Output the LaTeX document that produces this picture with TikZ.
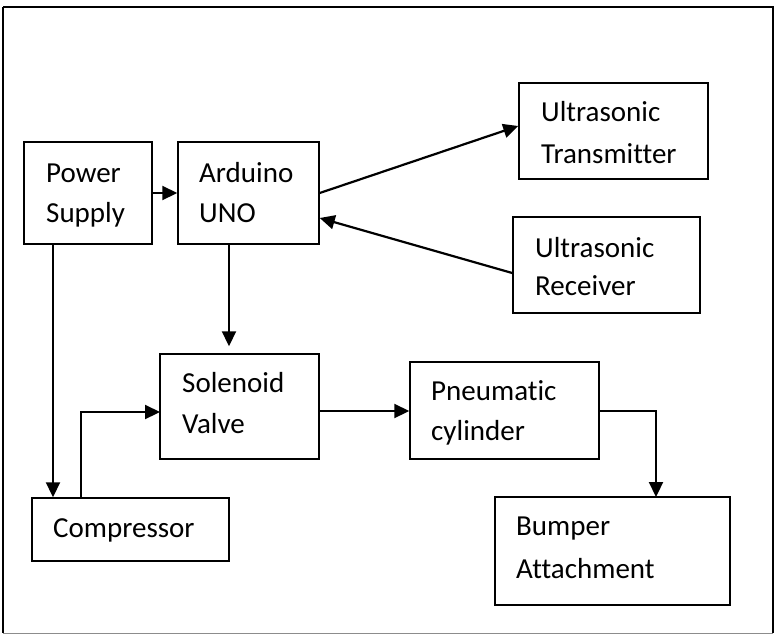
\documentclass[tikz,border=0pt]{standalone}
\usepackage{fontspec}
\setmainfont[Ligatures=NoCommon]{Carlito}
\usetikzlibrary{arrows.meta,calc}
\begin{document}
\begin{tikzpicture}[x=1pt,y=-1pt,
  box/.style={draw, line width=1.5pt, inner sep=0pt, rectangle},
  lbl/.style={inner sep=0pt, anchor=base west, align=left, font=\fontsize{29}{#1}\selectfont},
  lbl/.default=41,
  conn/.style={line width=2.2pt, -{Triangle[length=15pt,width=14pt]}}]
\useasboundingbox (0,0) rectangle (781,635);
\draw[line width=1.5pt] (3,7) -- (773,7) -- (773,633);
\draw[line width=1.5pt] (3,7) -- (3,633);
\draw[line width=0.8pt, black!45] (3,633) -- (773,633);

\node[box, minimum width=128pt, minimum height=102pt] (ps) at (88,193) {};
\node[box, minimum width=141pt, minimum height=102pt] (ard) at (248.5,193) {};
\node[box, minimum width=189pt, minimum height=96pt] (tx) at (613.5,131) {};
\node[box, minimum width=187pt, minimum height=96pt] (rx) at (606.5,265) {};
\node[box, minimum width=159pt, minimum height=105pt] (sol) at (239.5,406.5) {};
\node[box, minimum width=189pt, minimum height=97pt] (pn) at (504.5,410.5) {};
\node[box, minimum width=197pt, minimum height=63pt] (comp) at (130.5,529.5) {};
\node[box, minimum width=235pt, minimum height=108pt] (bump) at (612.5,551) {};

\node[lbl=40] (psT) at (46,222) {Power\\Supply};
\node[lbl=40] (ardT) at (199,222) {Arduino\\UNO};
\node[lbl=42] (txT) at (541,163) {Ultrasonic\\Transmitter};
\node[lbl=38] (rxT) at (535,295) {Ultrasonic\\Receiver};
\node[lbl=41] (solT) at (182,433) {Solenoid\\Valve};
\node[lbl=40] (pnT) at (431,440) {Pneumatic\\cylinder};
\node[lbl] (compT) at (53,537) {Compressor};
\node[lbl=43] (bumpT) at (516,578) {Bumper\\Attachment};

\coordinate (psDown) at (53,244);
\coordinate (ardDown) at (229,244);
\coordinate (compUp) at (81,498);
\coordinate (solIn) at (160,412);
\coordinate (pnOut) at (599,411);
\coordinate (bumpIn) at (656,497);

\draw[conn] (ps.east) -- (ard.west);
\draw[conn] (ard.east) -- ($(tx.west)+(0,-5)$);
\draw[conn] ($(rx.west)+(0,8)$) -- ($(ard.east)+(0,25)$);
\draw[conn, shorten >=7pt] (ardDown) -- (ardDown |- sol.north);
\draw[conn] (psDown) -- (psDown |- comp.north);
\draw[conn] (compUp) |- (solIn);
\draw[conn] (sol.east |- pnOut) -- (pn.west |- pnOut);
\draw[conn] (pnOut) -| (bumpIn);
\end{tikzpicture}
\end{document}
